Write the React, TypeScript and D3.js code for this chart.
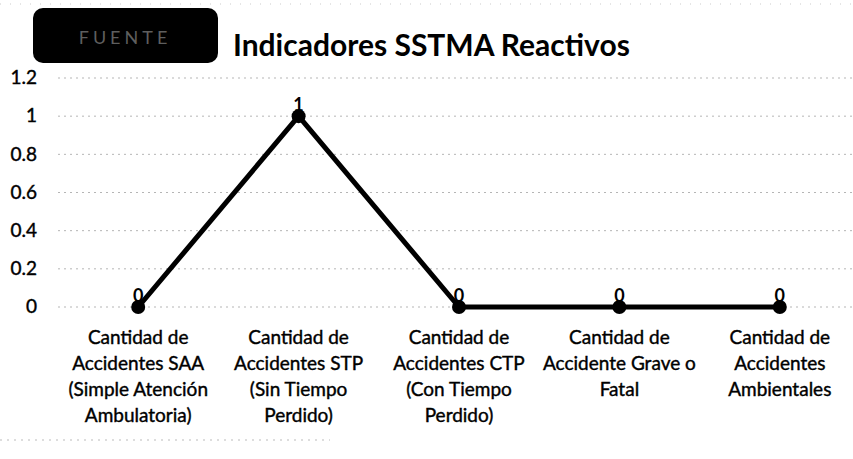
import { useMemo } from 'react'
import * as d3 from 'd3'

const W = 853
const H = 459

const categories = [
  ['Cantidad de', 'Accidentes SAA', '(Simple Atención', 'Ambulatoria)'],
  ['Cantidad de', 'Accidentes STP', '(Sin Tiempo', 'Perdido)'],
  ['Cantidad de', 'Accidentes CTP', '(Con Tiempo', 'Perdido)'],
  ['Cantidad de', 'Accidente Grave o', 'Fatal'],
  ['Cantidad de', 'Accidentes', 'Ambientales'],
]
const values = [0, 1, 0, 0, 0]
const yTicks = [0, 0.2, 0.4, 0.6, 0.8, 1, 1.2]

const FONT = 'Lato, "Open Sans", sans-serif'

export default function App() {
  const x = useMemo(
    () => d3.scalePoint<number>().domain(d3.range(categories.length)).range([58, 860]).padding(0.5),
    []
  )
  const y = useMemo(() => d3.scaleLinear().domain([0, 1.2]).range([307, 78]), [])

  const line = d3
    .line<number>()
    .x((_, i) => x(i) as number)
    .y((d) => y(d))

  return (
    <svg
      width={W}
      height={H}
      style={{ position: 'absolute', left: 0, top: 0, background: '#fff' }}
      fontFamily={FONT}
    >
      {/* scan artefacts at top and bottom */}
      <line x1={0} x2={W} y1={4} y2={4} stroke="#ccc" strokeDasharray="1,9" />
      <line x1={0} x2={330} y1={440} y2={440} stroke="#bbb" strokeDasharray="2,5" />

      {/* header block */}
      <rect x={33} y={8} width={185} height={55} rx={10} fill="#000" />
      <text x={125} y={44} textAnchor="middle" fill="#5e5e5e" fontSize={18} letterSpacing={4}>
        FUENTE
      </text>
      <text x={233} y={56} fontSize={30} fontWeight={700} fill="#000">
        Indicadores SSTMA Reactivos
      </text>

      {/* gridlines + y axis */}
      {yTicks.map((t) => (
        <g key={t}>
          <line
            x1={58}
            x2={W}
            y1={y(t)}
            y2={y(t)}
            stroke="#b5b5b5"
            strokeWidth={1}
            strokeDasharray="2,4"
          />
          <text
            x={37}
            y={y(t)}
            dy="0.33em"
            textAnchor="end"
            fontSize={19}
            fill="#000"
            stroke="#000"
            strokeWidth={0.4}
          >
            {t}
          </text>
        </g>
      ))}

      {/* series */}
      <path d={line(values) ?? ''} fill="none" stroke="#000" strokeWidth={5} strokeLinejoin="round" />
      {values.map((v, i) => (
        <g key={i}>
          <circle cx={x(i)} cy={y(v)} r={7} fill="#000" />
          <text x={x(i)} y={y(v) - 5} textAnchor="middle" fontSize={18} fontWeight={700} fill="#000">
            {v}
          </text>
        </g>
      ))}

      {/* category labels */}
      {categories.map((lines, i) => (
        <text
          key={i}
          textAnchor="middle"
          fontSize={19}
          fill="#000"
          stroke="#000"
          strokeWidth={0.4}
        >
          {lines.map((l, j) => (
            <tspan key={j} x={x(i)} y={344 + j * 26}>
              {l}
            </tspan>
          ))}
        </text>
      ))}
    </svg>
  )
}
